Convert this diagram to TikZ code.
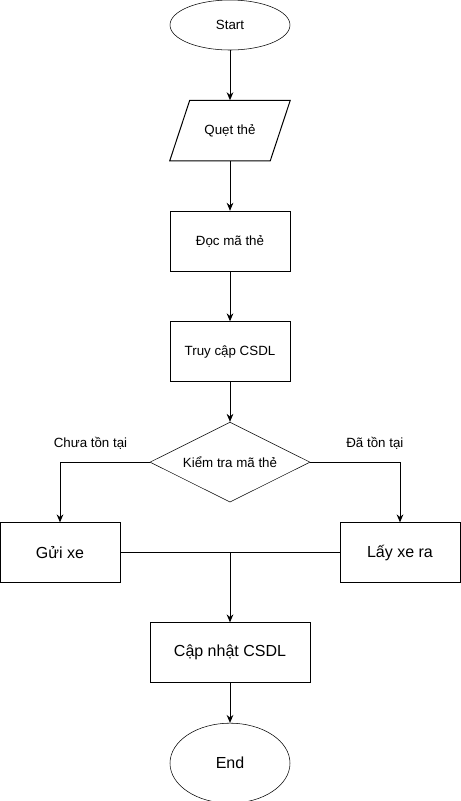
\documentclass[tikz,border=0pt]{standalone}
\usepackage{fontspec}
\setmainfont{Liberation Sans}
\usepackage{tikz}
\usetikzlibrary{arrows.meta, positioning, shapes.geometric, calc}

\begin{document}
\begin{tikzpicture}[
    node distance=37.5pt,
    terminal/.style={ellipse, draw, minimum width=90pt, minimum height=37.5pt,
                     inner sep=0pt, font=\fontsize{10pt}{12pt}\selectfont},
    io/.style={rectangle, minimum width=90pt, minimum height=45pt,
               inner sep=0pt, font=\fontsize{10pt}{12pt}\selectfont},
    process/.style={rectangle, draw, minimum width=90pt, minimum height=45pt,
                    inner sep=0pt, font=\fontsize{10pt}{12pt}\selectfont},
    bigprocess/.style={process, font=\fontsize{12pt}{14pt}\selectfont},
    decision/.style={diamond, draw, aspect=2, minimum width=120pt, minimum height=60pt,
                     inner sep=0pt, font=\fontsize{10pt}{12pt}\selectfont},
    label/.style={font=\fontsize{10pt}{12pt}\selectfont, inner sep=2pt},
    arrow/.style={-{Stealth[length=6pt, width=5pt]}, line width=0.75pt},
    line/.style={line width=0.75pt},
]
\useasboundingbox (0,0) rectangle (345.75pt,-600.75pt);

% Main column
\node[terminal] (start) at (172.5pt,-18.75pt) {Start};
\node[io, below=of start] (quet) {Quẹt thẻ};
\draw[line] (quet.south west) -- ($(quet.north west)+(15pt,0)$)
    -- (quet.north east) -- ($(quet.south east)+(-15pt,0)$) -- cycle;
\node[process, below=of quet] (doc) {Đọc mã thẻ};
\node[process, below=of doc] (truy) {Truy cập CSDL};
\node[decision, below=30pt of truy] (kiem) {Kiểm tra mã thẻ};

% Branches
\node[bigprocess, below=15pt of kiem, xshift=-127.5pt] (gui) {Gửi xe};
\node[bigprocess, below=15pt of kiem, xshift=127.5pt] (lay) {Lấy xe ra};

% Merge
\node[bigprocess, below=90pt of kiem, minimum width=120pt] (cap) {Cập nhật CSDL};
\node[terminal, below=30pt of cap, minimum height=60pt,
      font=\fontsize{12pt}{14pt}\selectfont] (end) {End};
\coordinate (merge) at (cap.north |- gui.east);

% Arrows
\draw[arrow] (start) -- (quet);
\draw[arrow] (quet) -- (doc);
\draw[arrow] (doc) -- (truy);
\draw[arrow] (truy) -- (kiem);
\draw[arrow] (kiem.west) -| node[label, above, pos=0.33, yshift=7pt] {Chưa tồn tại} (gui.north);
\draw[arrow] (kiem.east) -| node[label, above, pos=0.36, yshift=7pt] {Đã tồn tại} (lay.north);
\draw[line] (gui.east) -- (lay.west);
\draw[arrow] (merge) -- (cap);
\draw[arrow] (cap) -- (end);

\end{tikzpicture}
\end{document}
